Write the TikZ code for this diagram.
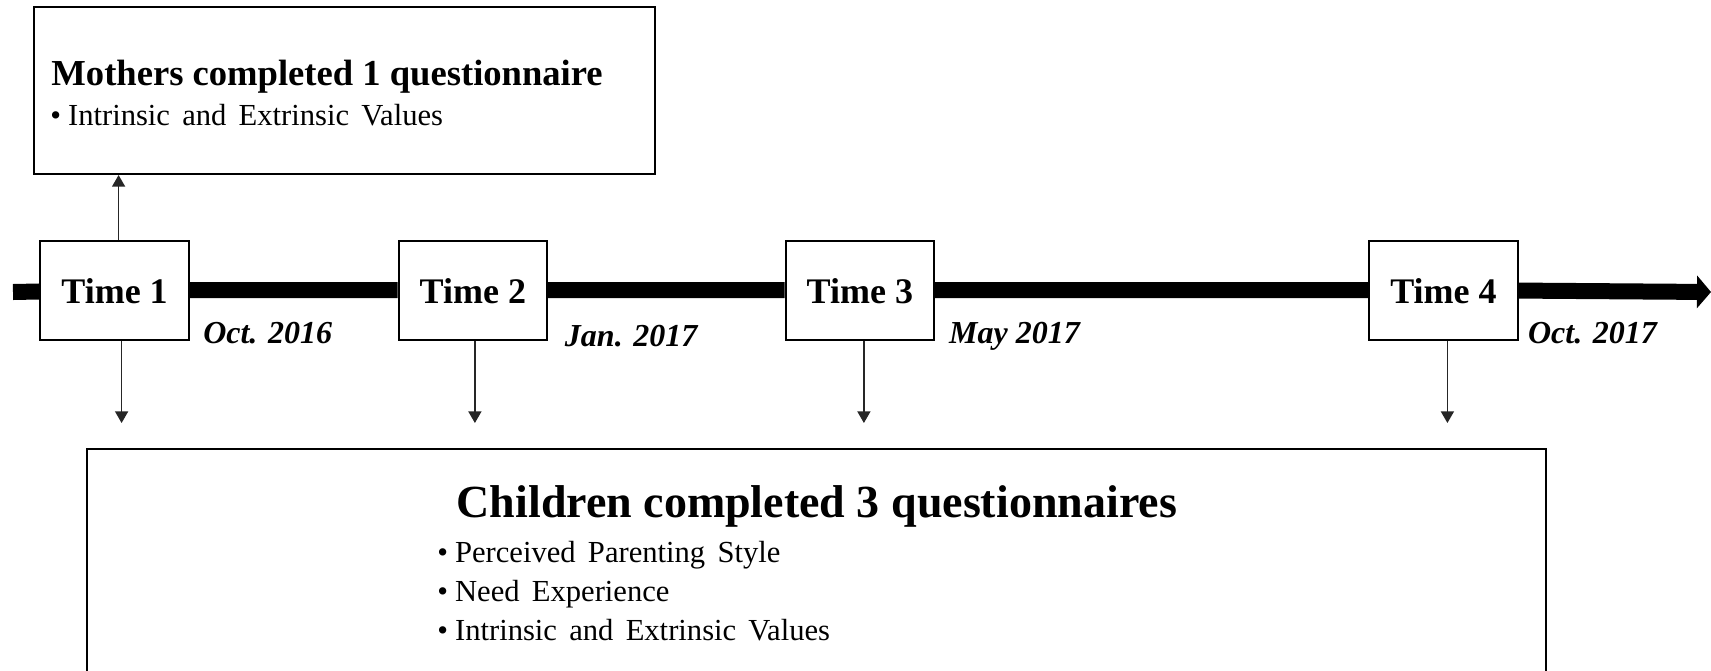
\documentclass[tikz,border=0pt]{standalone}
\usepackage{fontspec}
\setmainfont{Liberation Serif}
\newfontfamily\itemfont{Liberation Serif}[WordSpace=1.6]
\usetikzlibrary{arrows.meta}
\usetikzlibrary{calc}

\begin{document}
\begin{tikzpicture}[
            x=0.5pt, y=-0.5pt,
            box/.style={draw, line width=1pt, fill=white, inner sep=0pt},
            timebox/.style={box, minimum width=74.25pt, minimum height=49.5pt,
            text height=13.5pt, text depth=0pt,
            font=\fontsize{18}{20}\selectfont\bfseries},
            datelabel/.style={anchor=base west, inner sep=0pt,
            font=\fontsize{16}{19}\selectfont\bfseries\itshape},
            headline/.style={inner sep=0pt},
            item/.style={anchor=base west, inner sep=0pt, font=\fontsize{15.3}{18}\itemfont},
            timeline/.style={line width=8pt},
            link/.style={-{Triangle[length=5.8pt, width=6.5pt]}, line width=0.7pt, black!85}
        ]
            % Marco de la figura
            \clip (0,0) rectangle (1711,670);
            \fill[white] (0,0) rectangle (1711,670);

            % Puntos del eje temporal
            \node[timebox] (t1) at (114.6,290) {Time 1};
            \node[timebox] (t2) at (472.9,290) {Time 2};
            \node[timebox] (t3) at (859.9,290) {Time 3};
            \node[timebox] (t4) at (1443.4,290) {Time 4};

            % Eje temporal
            \coordinate (tlstart) at (13,292);
            \coordinate (tlend) at (1711,292);
            \draw[timeline] (tlstart) -- (t1) -- (t2) -- (t3) -- (t4);
            \draw[timeline, -{Triangle[length=7pt, width=16pt]}] (t4) -- (tlend);

            % Fechas
            \node[datelabel] (d1) at ([xshift=6.5pt, yshift=-1.6pt]t1.south east) {Oct. 2016};
            \node[datelabel] (d2) at ([xshift=8.2pt, yshift=-3pt]t2.south east) {Jan. 2017};
            \node[datelabel] (d3) at ([xshift=6.8pt, yshift=-1.6pt]t3.south east) {May 2017};
            \node[datelabel] (d4) at ([xshift=4.5pt, yshift=-1.6pt]t4.south east) {Oct. 2017};

            % Cuestionario de las madres
            \node[box, minimum width=310.25pt, minimum height=83.35pt] (moth) at (344.3,90.7) {};
            \node[headline, anchor=base west, font=\fontsize{18.3}{22}\selectfont\bfseries]
                (mothtitle) at (51,85) {Mothers completed 1 questionnaire};
            \node[item] (mothitem) at (50,125) {\textbullet\hspace{3.5pt}Intrinsic and Extrinsic Values};

            % Cuestionarios de los hijos
            \node[box, anchor=north, minimum width=729.5pt, minimum height=150pt] (kids) at (816.8,448) {};
            \node[headline, anchor=base, font=\fontsize{23}{27}\selectfont\bfseries]
                (kidstitle) at ([yshift=-34.5pt]kids.north) {Children completed 3 questionnaires};
            \node[item] (kid1) at (437,562) {\textbullet\hspace{3.5pt}Perceived Parenting Style};
            \node[item] (kid2) at (437,601.5) {\textbullet\hspace{3.5pt}Need Experience};
            \node[item] (kid3) at (437,640.5) {\textbullet\hspace{3.5pt}Intrinsic and Extrinsic Values};

            % Flechas
            \coordinate (stop) at (0,423);
            \draw[link] ([xshift=2pt]t1.north) -- ([xshift=2pt]t1.north |- moth.south);
            \draw[link] ([xshift=3.5pt]t1.south) -- ([xshift=3.5pt]t1.south |- stop);
            \draw[link] ([xshift=1pt]t2.south) -- ([xshift=1pt]t2.south |- stop);
            \draw[link] ([xshift=2pt]t3.south) -- ([xshift=2pt]t3.south |- stop);
            \draw[link] ([xshift=2pt]t4.south) -- ([xshift=2pt]t4.south |- stop);

        \end{tikzpicture}
\end{document}
